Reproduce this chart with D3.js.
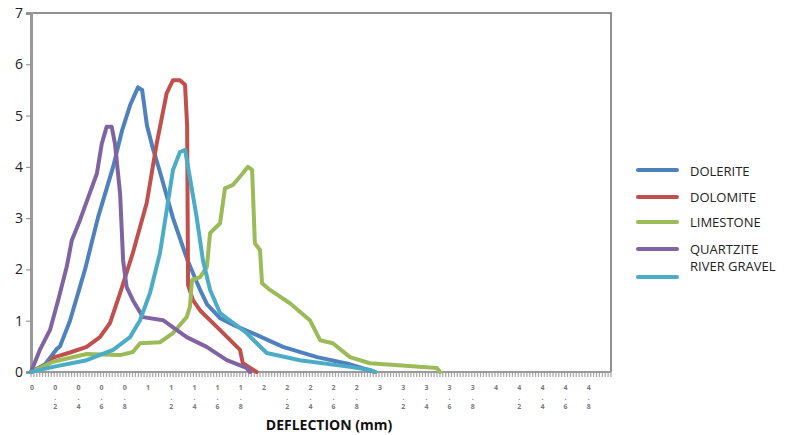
<!DOCTYPE html>
<html lang="en">
  <head>
    <meta charset="UTF-8" />
    <title>Deflection</title>
    <script src="https://d3js.org/d3.v7.min.js"></script>
    <style>
      body { margin: 0; background: #fff; }
      text { font-family: "Open Sans", sans-serif; }
    </style>
  </head>
  <body>
    <div id="chart"></div>
    <script>
      // series values: [x in label steps, value]
      const dolerite = [[0,0],[0.61,0.15],[1.11,0.45],[1.25,0.5],[1.68,1.0],[2.33,2.0],[2.88,3.0],[3.54,4.0],[3.92,4.7],[4.27,5.2],[4.61,5.55],[4.79,5.5],[5.0,4.8],[5.26,4.35],[5.56,3.9],[6.12,3.0],[6.73,2.2],[7.29,1.6],[7.59,1.32],[8.15,1.05],[8.71,0.92],[9.44,0.78],[10.86,0.49],[12.33,0.29],[13.75,0.15],[14.83,0]];
      const dolomite = [[0,0],[0.82,0.18],[0.95,0.28],[1.68,0.38],[2.4,0.49],[2.97,0.68],[3.4,0.95],[3.84,1.54],[4.39,2.32],[4.99,3.3],[5.42,4.46],[5.85,5.44],[6.12,5.69],[6.42,5.69],[6.64,5.6],[6.73,4.8],[6.77,1.7],[6.98,1.4],[7.29,1.2],[8.01,0.88],[9.01,0.43],[9.13,0.17],[9.73,0]];
      const limestone = [[0,0],[0.95,0.2],[2.4,0.35],[3.84,0.33],[4.39,0.39],[4.7,0.56],[5.56,0.58],[6.12,0.76],[6.71,1.07],[6.85,1.27],[6.94,1.79],[7.29,1.85],[7.58,2.05],[7.72,2.71],[8.15,2.9],[8.36,3.58],[8.71,3.65],[9.14,3.88],[9.35,4.0],[9.53,3.94],[9.65,2.51],[9.87,2.38],[9.96,1.73],[10.3,1.6],[11.16,1.34],[12.02,1.01],[12.46,0.62],[13.01,0.56],[13.75,0.29],[14.61,0.17],[17.49,0.08],[17.63,0]];
      const quartzite = [[0,0],[0.38,0.43],[0.82,0.82],[1.17,1.4],[1.54,2.05],[1.76,2.57],[2.11,2.96],[2.47,3.41],[2.84,3.87],[3.05,4.45],[3.26,4.78],[3.48,4.78],[3.62,4.45],[3.84,3.48],[3.97,2.18],[4.12,1.66],[4.39,1.4],[4.83,1.07],[5.69,1.01],[6.71,0.68],[7.57,0.49],[8.44,0.23],[9.29,0.08],[9.44,0]];
      const riverGravel = [[0,0],[0.95,0.1],[2.4,0.23],[3.54,0.43],[4.27,0.68],[4.7,1.01],[5.13,1.54],[5.56,2.32],[5.85,3.16],[6.12,3.94],[6.42,4.29],[6.64,4.33],[6.77,4.0],[7.14,3.02],[7.41,2.18],[7.72,1.6],[8.15,1.15],[9.29,0.76],[9.73,0.56],[10.16,0.37],[11.59,0.23],[13.75,0.1],[14.61,0.04],[14.83,0]];

      const seriesNames = ["DOLERITE", "DOLOMITE", "LIMESTONE", "QUARTZITE", "RIVER GRAVEL"];
      const seriesData = [dolerite, dolomite, limestone, quartzite, riverGravel];
      const colors = ["#4f81bd", "#c0504d", "#9bbb59", "#8064a2", "#4bacc6"];

      const yTicks = [0, 1, 2, 3, 4, 5, 6, 7];
      // x labels are unreadable in the source; placeholder steps of 0.2
      const xLabels = d3.range(25).map((i) => (i * 0.2).toFixed(1).replace(/\.0$/, ""));

      const W = 798, H = 435;
      const margin = { top: 13, right: 187, bottom: 63, left: 31 };

      const svg = d3.select("#chart").append("svg").attr("width", W).attr("height", H);

      const x = d3.scaleLinear().domain([0, 25]).range([margin.left, W - margin.right]);
      const y = d3.scaleLinear().domain([0, 7]).range([H - margin.bottom, margin.top]);

      // plot frame (top / right)
      svg.append("path")
        .attr("d", `M${x(0)},${y(7)}H${x(25)}V${y(0)}`)
        .attr("fill", "none")
        .attr("stroke", "#6e6e6e")
        .attr("stroke-width", 1.5);

      // dense minor ticks under the x axis
      svg.append("g")
        .selectAll("line")
        .data(d3.range(0, 25.01, 1 / 8))
        .join("line")
        .attr("x1", (d) => x(d))
        .attr("x2", (d) => x(d))
        .attr("y1", y(0))
        .attr("y2", y(0) + 5)
        .attr("stroke", "#a6a6a6")
        .attr("stroke-width", 1.2);

      svg.append("line")
        .attr("x1", x(0)).attr("x2", x(25))
        .attr("y1", y(0)).attr("y2", y(0))
        .attr("stroke", "#9a9a9a").attr("stroke-width", 2);

      // y axis
      const yAxis = svg.append("g")
        .attr("transform", `translate(${x(0)},0)`)
        .call(d3.axisLeft(y).tickValues(yTicks).tickSize(5).tickFormat(d3.format("d")));
      yAxis.select(".domain").attr("stroke", "#9a9a9a").attr("stroke-width", 3);
      yAxis.selectAll(".tick line").attr("stroke", "#888");
      yAxis.selectAll(".tick text")
        .attr("font-size", 14)
        .attr("fill", "#222")
        .attr("x", -8)
        .style("font-family", "'Open Sans', sans-serif");

      // x tick labels, characters stacked as in the source
      svg.append("g")
        .selectAll("text")
        .data(xLabels)
        .join("text")
        .attr("x", (d, i) => x(i) + 1)
        .attr("y", 390)
        .attr("text-anchor", "middle")
        .attr("font-size", 7)
        .attr("font-weight", "bold")
        .attr("fill", "#7a7a7a")
        .selectAll("tspan")
        .data((d, i) => d.split("").map((ch) => ({ ch, i })))
        .join("tspan")
        .attr("x", (d) => x(d.i) + 1)
        .attr("dy", (d, j) => (j === 0 ? 0 : 9.5))
        .text((d) => d.ch);

      svg.append("text")
        .attr("x", 329)
        .attr("y", 430)
        .attr("text-anchor", "middle")
        .attr("font-size", 14)
        .attr("font-weight", "bold")
        .attr("fill", "#111")
        .text("DEFLECTION (mm)");

      // lines
      const line = d3.line().x((d) => x(d[0])).y((d) => y(d[1]));
      svg.append("g")
        .selectAll("path")
        .data(seriesData)
        .join("path")
        .attr("d", line)
        .attr("fill", "none")
        .attr("stroke", (d, i) => colors[i])
        .attr("stroke-width", 4)
        .attr("stroke-linejoin", "round")
        .attr("stroke-linecap", "round");

      // legend
      const legLineY = [170, 197, 222, 249, 277];
      const legTextY = [171, 197, 222, 249, 266];
      const leg = svg.append("g");
      seriesNames.forEach((name, i) => {
        leg.append("line")
          .attr("x1", 638).attr("x2", 677)
          .attr("y1", legLineY[i]).attr("y2", legLineY[i])
          .attr("stroke", colors[i])
          .attr("stroke-width", 4)
          .attr("stroke-linecap", "round");
        leg.append("text")
          .attr("x", 690)
          .attr("y", legTextY[i])
          .attr("dy", "0.35em")
          .attr("font-size", 13)
          .attr("fill", "#222")
          .text(name);
      });
    </script>
  </body>
</html>
